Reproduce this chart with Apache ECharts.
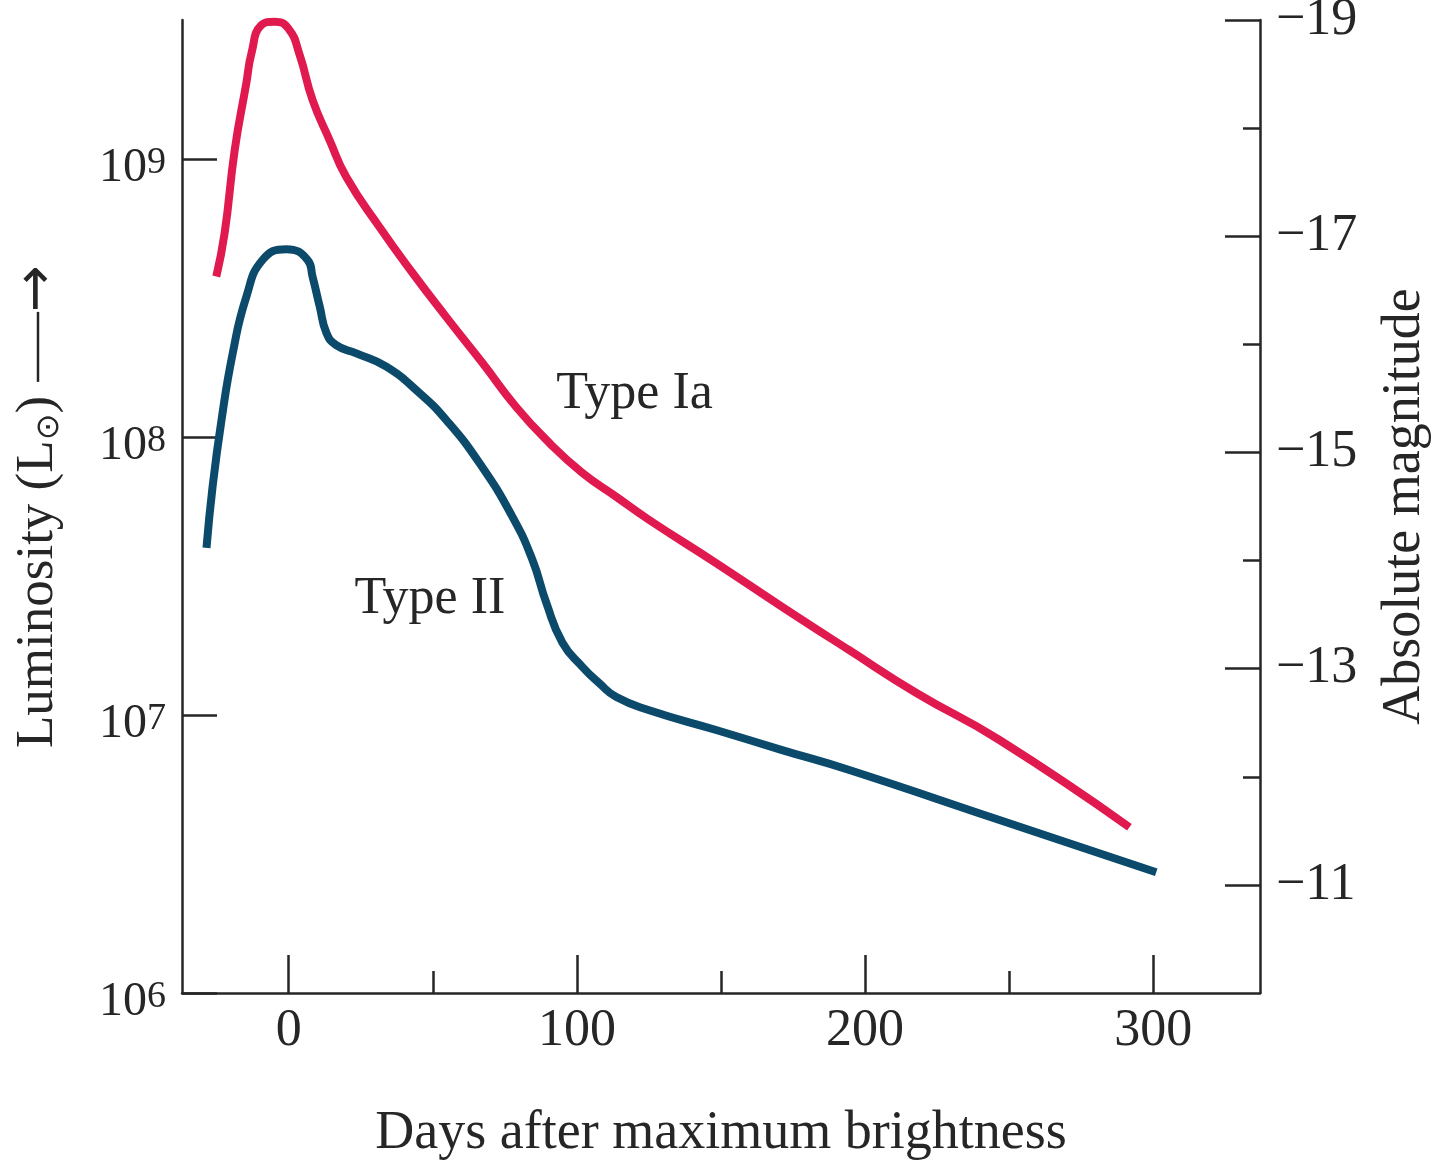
<!DOCTYPE html>
<html>
<head>
<meta charset="utf-8">
<title>Supernova light curves</title>
<script src="https://cdn.jsdelivr.net/npm/echarts@6/dist/echarts.min.js"></script>
<style>
	html, body {
		margin: 0;
		padding: 0;
		background: #fff;
	}

	#chart {
		width: 1437px;
		height: 1165px;
	}
</style>
</head>

<body>
	<div id="chart"></div>
</body>
<script>
	// days after max / luminosity (L_sun)
	var iaDays = [-25.1, -22.2, -18.7, -14.7, -12.9, -9.5, -4.9, 0.0, 3.8, 8.3, 14.2, 20.0, 31.5, 43.0, 54.7, 67.2, 79.0, 90.5, 101.9, 113.7, 125.1, 148.3, 171.2, 194.5, 217.8, 246.6, 291.7];
	var iaLum = [3.78e8, 5.42e8, 1.08e9, 1.87e9, 2.40e9, 3.03e9, 3.12e9, 2.94e9, 2.37e9, 1.63e9, 1.17e9, 8.61e8, 5.69e8, 3.89e8, 2.70e8, 1.85e8, 1.28e8, 9.51e7, 7.43e7, 6.09e7, 5.03e7, 3.52e7, 2.45e7, 1.71e7, 1.20e7, 8.13e6, 3.95e6];

	var iiDays = [-28.5, -26.4, -23.3, -19.4, -14.7, -9.0, -0.8, 6.6, 8.3, 10.8, 13.1, 16.5, 23.5, 33.9, 45.4, 54.7, 66.2, 77.7, 84.6, 89.4, 95.0, 101.9, 107.8, 113.7, 125.1, 148.3, 171.2, 194.5, 246.6, 301.0];
	var iiLum = [3.99e7, 6.61e7, 1.15e8, 2.00e8, 3.19e8, 4.34e8, 4.74e8, 4.33e8, 3.77e8, 2.94e8, 2.37e8, 2.14e8, 2.00e8, 1.79e8, 1.44e8, 1.15e8, 8.06e7, 5.15e7, 3.61e7, 2.53e7, 1.82e7, 1.49e7, 1.30e7, 1.16e7, 1.04e7, 8.83e6, 7.48e6, 6.34e6, 4.19e6, 2.72e6];

	// tick values
	var dayTicks = [0, 100, 200, 300];
	var dayMinor = [50, 150, 250];
	var lumExp = [6, 7, 8, 9];
	var magTicks = [-19, -17, -15, -13, -11];
	var magMinor = [-18, -16, -14, -12];

	// where the curve names sit
	var iaNameAt = [120, 1.42e8];
	var iiNameAt = [49, 2.6e7];

	var serif = "'Liberation Serif', 'DejaVu Serif', serif";
	var ink = '#262626';

	function pairs(xs, ys) {
		return xs.map(function (x, i) { return [x, ys[i]]; });
	}

	var chart = echarts.init(document.getElementById('chart'), null, { renderer: 'canvas' });

	var line = { show: true, onZero: false, lineStyle: { color: ink, width: 2.5 } };
	var noLine = { show: false, onZero: false };

	var option = {
		animation: false,
		backgroundColor: '#fff',
		grid: { left: 182, right: 177, top: 20, bottom: 172, containLabel: false, outerBoundsMode: 'none' },
		xAxis: [
			{
				type: 'value', min: -37, max: 337, position: 'bottom',
				axisLine: line,
				axisTick: { inside: true, length: 38, customValues: dayTicks, lineStyle: { color: ink, width: 2.5 } },
				axisLabel: { customValues: dayTicks, fontSize: 52, fontFamily: serif, color: ink, margin: 12 },
				splitLine: { show: false },
				name: 'Days after maximum brightness',
				nameLocation: 'middle', nameGap: 114, nameMoveOverlap: false,
				nameTextStyle: { fontSize: 54, fontFamily: serif, color: ink }
			},
			{
				type: 'value', min: -37, max: 337, position: 'bottom',
				axisLine: noLine,
				axisTick: { inside: true, length: 22, customValues: dayMinor, lineStyle: { color: ink, width: 2.5 } },
				axisLabel: { show: false },
				splitLine: { show: false }
			}
		],
		yAxis: [
			{
				type: 'log', logBase: 10, min: 1e6, max: 3162277660, position: 'left',
				axisLine: line,
				axisTick: { show: false },
				axisLabel: { show: false },
				splitLine: { show: false }
			},
			{
				// exponent axis for the 10^n ticks
				type: 'value', min: 6, max: 9.5, position: 'left',
				axisLine: noLine,
				axisTick: { inside: true, length: 35, customValues: lumExp, lineStyle: { color: ink, width: 2.5 } },
				axisLabel: {
					customValues: lumExp, margin: 16, color: ink, padding: [18, 0, 0, 0],
					formatter: function (v) { return '{b|10}{s|' + v + '}'; },
					rich: {
						b: { fontSize: 48, fontFamily: serif, color: ink, lineHeight: 48 },
						s: { fontSize: 38, fontFamily: serif, color: ink, lineHeight: 22, verticalAlign: 'top' }
					}
				},
				splitLine: { show: false },
				name: '{a|Luminosity (L}{o|⊙}{a|)}{sp| }{ln| }{hd|→}',
				nameLocation: 'middle', nameGap: 116, nameRotate: 90, nameMoveOverlap: false,
				nameTextStyle: {
					rich: {
						a: { fontSize: 53, fontFamily: serif, color: ink, lineHeight: 56 },
						o: { fontSize: 32, fontFamily: "'DejaVu Sans', sans-serif", color: ink, verticalAlign: 'bottom', lineHeight: 40 },
						sp: { fontSize: 10, width: 14 },
						ln: { fontSize: 2, width: 70, height: 2.5, lineHeight: 2.5, backgroundColor: ink },
						hd: { fontSize: 56, fontFamily: "'DejaVu Sans', sans-serif", color: ink, lineHeight: 56 }
					}
				}
			},
			{
				type: 'value', inverse: true, min: -19, max: -10, position: 'right',
				axisLine: line,
				axisTick: { inside: true, length: 35, customValues: magTicks, lineStyle: { color: ink, width: 2.5 } },
				axisLabel: {
					customValues: magTicks, fontSize: 52, fontFamily: serif, color: ink, margin: 16,
					formatter: function (v) { return '\u2212' + Math.abs(v); }
				},
				splitLine: { show: false },
				name: 'Absolute magnitude',
				nameLocation: 'middle', nameGap: 118, nameRotate: 90, nameMoveOverlap: false,
				nameTextStyle: { fontSize: 54, fontFamily: serif, color: ink }
			},
			{
				type: 'value', inverse: true, min: -19, max: -10, position: 'right',
				axisLine: noLine,
				axisTick: { inside: true, length: 17, customValues: magMinor, lineStyle: { color: ink, width: 2.5 } },
				axisLabel: { show: false },
				splitLine: { show: false }
			}
		],
		series: [
			{
				name: 'Type Ia',
				type: 'line',
				xAxisIndex: 0, yAxisIndex: 0,
				data: pairs(iaDays, iaLum),
				smooth: 0.5,
				clip: false,
				showSymbol: false,
				lineStyle: { color: '#e0194f', width: 8, cap: 'butt', join: 'round' },
				markPoint: {
					symbolSize: 0,
					label: { show: true, position: 'inside', formatter: '{a}', fontSize: 52, fontFamily: serif, color: ink },
					data: [{ coord: iaNameAt }]
				}
			},
			{
				name: 'Type II',
				type: 'line',
				xAxisIndex: 0, yAxisIndex: 0,
				data: pairs(iiDays, iiLum),
				smooth: 0.5,
				clip: false,
				showSymbol: false,
				lineStyle: { color: '#0b4a6b', width: 8, cap: 'butt', join: 'round' },
				markPoint: {
					symbolSize: 0,
					label: { show: true, position: 'inside', formatter: '{a}', fontSize: 52, fontFamily: serif, color: ink },
					data: [{ coord: iiNameAt }]
				}
			}
		]
	};
	chart.setOption(option);
</script>

</html>
